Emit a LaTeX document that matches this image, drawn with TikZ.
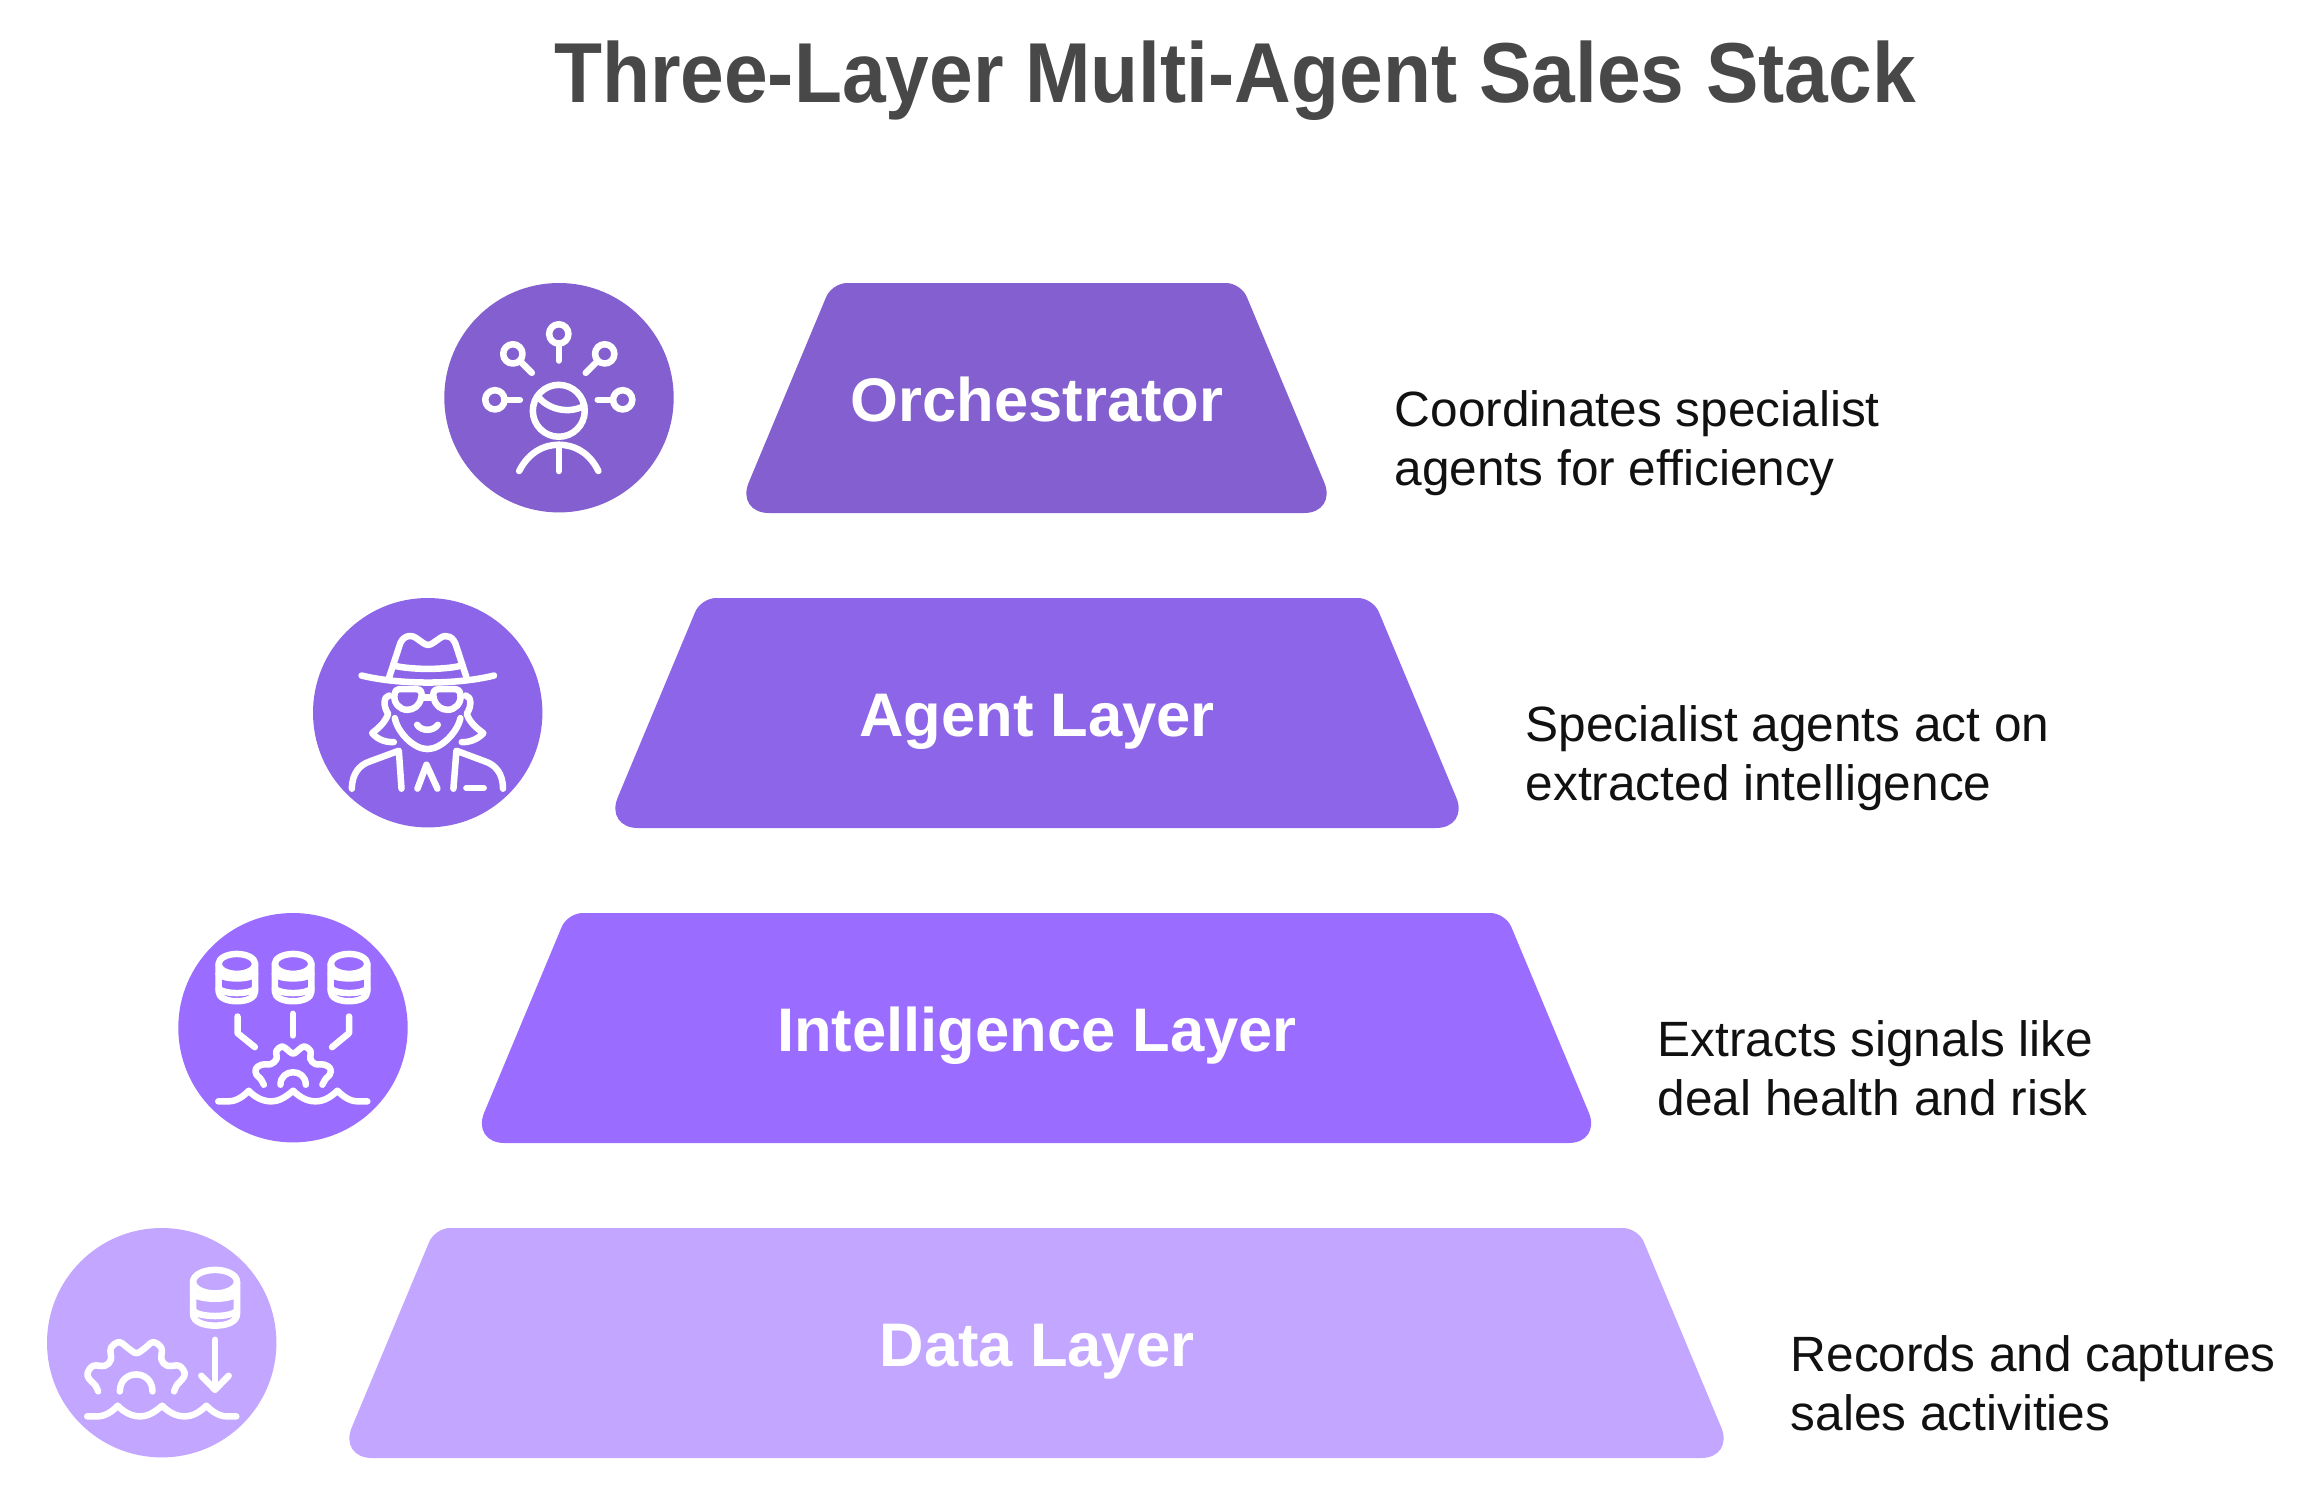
\documentclass[tikz,border=0pt]{standalone}
\usepackage{fontspec}
\setmainfont{Liberation Sans}
\definecolor{orchc}{HTML}{835FCF}
\definecolor{agentc}{HTML}{8C65E8}
\definecolor{intelc}{HTML}{9A6CFF}
\definecolor{datac}{HTML}{C2A6FF}
\definecolor{titlec}{HTML}{484848}
\definecolor{descc}{HTML}{111111}
\tikzset{
  iconline/.style={draw=white,line width=0.065cm,line cap=round,line join=round},
  titletext/.style={text=titlec,font=\fontsize{24.2}{29}\selectfont\bfseries\addfontfeature{FakeStretch=0.923},anchor=base,inner sep=0pt},
  layertext/.style={text=white,font=\fontsize{17.5}{21}\selectfont\bfseries,anchor=base,inner sep=0pt},
  desctext/.style={text=descc,font=\fontsize{14.1}{16.8}\selectfont,align=left,anchor=west,inner sep=0pt},
  iconscope/.style={x=0.0033333cm,y=-0.0033333cm}
}
% #1 centre x, #2 top y, #3 half-width bottom, #4 colour
\newcommand{\trapez}[4]{%
  \fill[#4,rounded corners=0.15cm] (#1,#2) -- (#1+#3-96,#2)
    [rounded corners=0.33cm] -- (#1+#3,#2+230) -- (#1-#3,#2+230)
    [rounded corners=0.15cm] -- (#1-#3+96,#2) -- cycle;}
% #1 x, #2 top y, #3 xscale, #4 yscale (icon units)
\newcommand{\cylicon}[4]{%
  \begin{scope}[shift={(#1,#2)},xscale=#3,yscale=#4]
    \draw[iconline] (0,40) circle [x radius=55,y radius=30];
    \draw[iconline] (-55,40) -- (-55,122) .. controls (-55,142) and (-30,152) .. (0,152)
      .. controls (30,152) and (55,142) .. (55,122) -- (55,40);
    \draw[iconline] (-55,70) .. controls (-40,88) and (40,88) .. (55,70);
    \draw[iconline] (-55,114) .. controls (-40,132) and (40,132) .. (55,114);
  \end{scope}}
% #1 x shift
\newcommand{\waveicon}[1]{%
  \begin{scope}[shift={(#1,0)}]
    \draw[iconline] (160,590) -- (190,590) .. controls (215,590) and (235,575) .. (252,558)
      .. controls (270,578) and (295,590) .. (318,590)
      .. controls (345,590) and (365,575) .. (385,558)
      .. controls (402,575) and (425,590) .. (452,590)
      .. controls (480,590) and (500,575) .. (518,558)
      .. controls (535,575) and (555,590) .. (580,590) -- (608,590);
  \end{scope}}
\begin{document}
\begin{tikzpicture}[x=0.01cm,y=-0.01cm]
\useasboundingbox (0,0) rectangle (2305,1505);
\fill[white] (0,0) rectangle (2305,1505);

\node[titletext] (title) at (1235,102) {Three-Layer Multi-Agent Sales Stack};

% trapezoids
\trapez{1036.5}{283}{300.5}{orchc}
\trapez{1037}{598}{432}{agentc}
\trapez{1036.5}{913}{565}{intelc}
\trapez{1036.5}{1228}{697.5}{datac}

\node[layertext] (orch) at (1037,421) {Orchestrator};
\node[layertext] (agent) at (1037,736) {Agent Layer};
\node[layertext] (intel) at (1037,1051) {Intelligence Layer};
\node[layertext] (data) at (1037,1366) {Data Layer};

\node[desctext] (d1) at (1394,444) {\strut Coordinates specialist\\agents for efficiency\strut};
\node[desctext] (d2) at (1525,759) {\strut Specialist agents act on\\extracted intelligence\strut};
\node[desctext] (d3) at (1657,1074) {\strut Extracts signals like\\deal health and risk\strut};
\node[desctext] (d4) at (1790,1389) {\strut Records and captures\\sales activities\strut};

% circles
\fill[orchc] (559,397.7) circle [radius=114.7];
\fill[agentc] (427.7,712.7) circle [radius=114.7];
\fill[intelc] (293,1027.7) circle [radius=114.7];
\fill[datac] (161.7,1342.7) circle [radius=114.7];

% icon 1
\begin{scope}[shift={(430,270)},iconscope]
  \foreach \p in {(387,192),(249,252),(525,252),(195,390),(579,390)}
    \draw[iconline] \p circle [radius=29];
  \draw[iconline] (387,221) -- (387,272);
  \draw[iconline] (270,273) -- (306,309);
  \draw[iconline] (504,273) -- (468,309);
  \draw[iconline] (224,390) -- (270,390);
  \draw[iconline] (550,390) -- (504,390);
  \draw[iconline] (387,423) circle [radius=78];
  \draw[iconline] (326,382) .. controls (360,422) and (420,432) .. (464,408);
  \draw[iconline] (268,604) .. controls (295,550) and (340,525) .. (387,525)
     .. controls (435,525) and (480,550) .. (506,604);
  \draw[iconline] (387,525) -- (387,604);
\end{scope}

% icon 2
\begin{scope}[shift={(300,590)},iconscope]
  \draw[iconline] (268,262) -- (298,170) .. controls (305,140) and (330,130) .. (350,145)
     .. controls (365,155) and (375,165) .. (385,165)
     .. controls (395,165) and (405,155) .. (420,145)
     .. controls (440,130) and (462,140) .. (470,170) -- (500,262);
  \draw[iconline] (185,257) .. controls (300,285) and (470,285) .. (583,257);
  \draw[iconline] (285,228) .. controls (340,240) and (430,240) .. (482,228);
  \draw[iconline] (297,298) -- (350,298) .. controls (365,298) and (368,310) .. (364,325)
     .. controls (358,350) and (340,360) .. (322,360)
     .. controls (300,360) and (280,340) .. (284,315) .. controls (286,303) and (290,298) .. (297,298);
  \draw[iconline] (469,298) -- (416,298) .. controls (401,298) and (398,310) .. (402,325)
     .. controls (408,350) and (426,360) .. (444,360)
     .. controls (466,360) and (486,340) .. (482,315) .. controls (480,303) and (476,298) .. (469,298);
  \draw[iconline] (365,323) -- (401,323);
  \draw[iconline] (285,385) .. controls (292,425) and (340,478) .. (383,478)
     .. controls (426,478) and (474,425) .. (482,385);
  \draw[iconline] (352,405) .. controls (365,425) and (400,425) .. (414,405);
  \draw[iconline] (268,317) .. controls (250,320) and (250,350) .. (265,372)
     .. controls (255,400) and (235,415) .. (217,430)
     .. controls (235,452) and (262,458) .. (282,457);
  \draw[iconline] (498,317) .. controls (516,320) and (516,350) .. (501,372)
     .. controls (511,400) and (531,415) .. (551,430)
     .. controls (531,452) and (504,458) .. (486,457);
  \draw[iconline] (156,597) .. controls (156,550) and (180,525) .. (210,515) -- (297,483) -- (305,597);
  \draw[iconline] (610,597) .. controls (610,550) and (586,525) .. (556,515) -- (470,483) -- (461,597);
  \draw[iconline] (353,597) -- (380,525) -- (413,597);
  \draw[iconline] (500,595) -- (552,595);
\end{scope}

% icon 3
\begin{scope}[shift={(165,905)},iconscope]
  \cylicon{216}{137}{1}{1}
  \cylicon{385}{137}{1}{1}
  \cylicon{553}{137}{1}{1}
  \draw[iconline] (218,335) -- (218,385) -- (270,427);
  \draw[iconline] (384,327) -- (384,392);
  \draw[iconline] (553,335) -- (553,385) -- (502,427);
  \draw[iconline] plot[smooth,tension=0.6] coordinates {(297,540) (287,522) (275,510) (273,492) (290,480) (318,478) (335,463) (335,438) (352,425) (368,435) (385,447) (402,435) (418,425) (437,438) (437,463) (452,478) (480,480) (497,492) (495,510) (483,522) (473,540)};
  \draw[iconline] (347,540) .. controls (347,490) and (423,490) .. (423,540);
  \waveicon{0}
\end{scope}

% icon 4
\begin{scope}[shift={(30,1220)},iconscope]
  \cylicon{556}{138}{1.2}{1.18}
  \draw[iconline] (556,360) -- (556,510);
  \draw[iconline] (515,468) -- (556,510) -- (597,468);
  \draw[iconline] plot[smooth,tension=0.6] coordinates {(205,515) (195,495) (178,478) (173,460) (190,438) (225,438) (243,420) (243,385) (268,367) (295,385) (320,400) (345,385) (370,367) (395,385) (395,420) (413,438) (448,438) (465,460) (458,478) (442,495) (433,515)};
  \draw[iconline] (270,515) .. controls (270,447) and (368,447) .. (368,515);
  \waveicon{12}
\end{scope}
\end{tikzpicture}
\end{document}
